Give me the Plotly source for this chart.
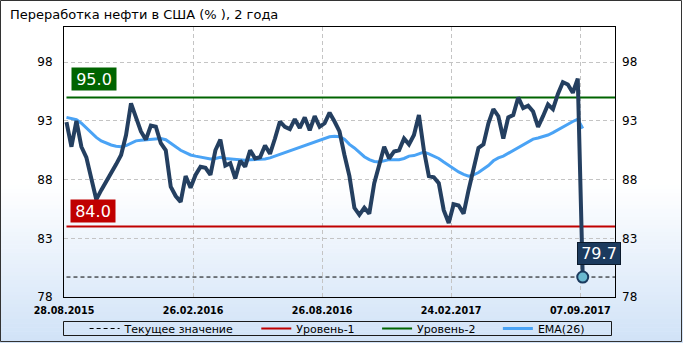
import plotly.graph_objects as go

# ---------------- data ----------------
title_text = "Переработка нефти в США (% ), 2 года"
tick_positions = [0, 26, 52, 78, 104]
tick_labels = ["28.08.2015", "26.02.2016", "26.08.2016", "24.02.2017", "07.09.2017"]
y_ticks = [78, 83, 88, 93, 98]

refining = [
    92.9, 90.8, 93.0, 90.8, 89.9, 88.0, 86.3, 87.1, 87.8, 88.5,
    89.3, 90.1, 91.8, 94.5, 93.3, 92.1, 91.4, 92.6, 92.5, 91.1,
    90.5, 87.4, 86.6, 86.1, 88.3, 87.3, 88.4, 89.1, 89.0, 88.4,
    90.5, 91.4, 89.2, 89.4, 88.1, 89.6, 89.1, 90.5, 89.8, 89.9,
    90.9, 90.2, 91.5, 92.95, 92.5, 92.3, 93.15, 92.4, 93.3, 92.2,
    93.4, 92.5, 92.8, 93.7, 92.95, 92.1, 90.1, 88.3, 85.6, 85.0,
    85.6, 85.1, 87.7, 89.3, 90.8, 89.8, 90.4, 90.5, 91.5, 91.0,
    91.8, 93.5, 90.5, 88.3, 88.2, 87.7, 85.4, 84.3, 85.9, 85.8,
    85.1, 87.1, 89.05, 90.7, 91.0, 92.8, 94.0, 93.4, 91.5, 93.3,
    93.5, 95.0, 94.1, 94.3, 93.8, 92.5, 93.4, 94.4, 94.0, 95.3,
    96.3, 96.1, 95.4, 96.6, 79.7,
]

ema26 = [
    93.3, 93.2, 93.1, 92.8, 92.4, 92.0, 91.6, 91.3, 91.1, 90.95,
    90.85, 90.8, 90.9, 91.1, 91.3, 91.35, 91.4, 91.45, 91.5, 91.5,
    91.4, 91.1, 90.8, 90.5, 90.3, 90.1, 90.0, 89.9, 89.8, 89.75,
    89.8, 89.9, 89.8, 89.75, 89.7, 89.65, 89.65, 89.7, 89.7, 89.7,
    89.75, 89.85, 90.0, 90.15, 90.3, 90.5, 90.65, 90.8, 90.95, 91.1,
    91.25, 91.35, 91.5, 91.65, 91.7, 91.65, 91.45, 91.0, 90.7, 90.3,
    89.95, 89.7, 89.55, 89.5, 89.6, 89.7, 89.7, 89.7, 89.8, 90.0,
    90.05, 90.2, 90.35, 90.2, 90.0, 89.8, 89.5, 89.2, 88.9, 88.65,
    88.45, 88.3, 88.4, 88.6, 88.9, 89.2, 89.6, 89.85, 90.0, 90.25,
    90.45, 90.7, 90.95, 91.2, 91.45, 91.55, 91.65, 91.8, 92.0, 92.25,
    92.5, 92.7, 92.95, 93.15, 92.35,
]

level_1 = 84.0
level_2 = 95.0
current_value = refining[-1]

legend_names = ["Текущее значение", "Уровень-1", "Уровень-2", "EMA(26)"]

# ---------------- styling ----------------
FONT = "DejaVu Sans"
NAVY = "#243f60"
EMA_C = "#4aa3f5"
RED = "#c00000"
GREEN = "#006400"
GRID = "#c4c4c4"

W, H = 683, 343
L, R, T, B = 64, 68, 27, 46
PW, PH = W - L - R, H - T - B

def px2paper_x(px):
    return (px - L) / PW

def px2paper_y(py):
    return (H - B - py) / PH

n = len(refining)
xs = [i + 0.5 for i in range(n)]
x_end = 111

fig = go.Figure()

pad = "\u00a0" * 5
fig.add_trace(go.Scatter(x=[xs[0], x_end], y=[level_1, level_1], mode="lines",
                         line=dict(color=RED, width=2), name=legend_names[1] + pad,
                         legendrank=2, hoverinfo="skip"))
fig.add_trace(go.Scatter(x=[xs[0], x_end], y=[level_2, level_2], mode="lines",
                         line=dict(color=GREEN, width=2), name=legend_names[2] + pad,
                         legendrank=3, hoverinfo="skip"))
fig.add_trace(go.Scatter(x=[xs[0], x_end], y=[current_value, current_value], mode="lines",
                         line=dict(color="black", width=1, dash="4px,3px"),
                         name=legend_names[0] + pad, legendrank=1, hoverinfo="skip"))
fig.add_trace(go.Scatter(x=xs, y=ema26, mode="lines",
                         line=dict(color=EMA_C, width=3), name=legend_names[3],
                         legendrank=4))
fig.add_trace(go.Scatter(x=xs, y=refining, mode="lines",
                         line=dict(color=NAVY, width=4), showlegend=False))
fig.add_trace(go.Scatter(x=[xs[-1]], y=[current_value], mode="markers",
                         marker=dict(size=11, color="#6ab8cf", line=dict(color="#1b3a5e", width=2)),
                         showlegend=False, cliponaxis=False))
fig.add_trace(go.Scatter(x=[xs[0]], y=[current_value], yaxis="y2", mode="lines",
                         line=dict(width=0), showlegend=False, hoverinfo="skip"))

# ---------------- background gradient ----------------
shapes = []
g_top, g_bot = 185, 343
steps = 40
c0 = (255, 255, 255)
c1 = (208, 226, 247)
for k in range(steps):
    y0 = g_top + (g_bot - g_top) * k / steps
    y1 = g_top + (g_bot - g_top) * (k + 1) / steps + 0.6
    t = (k + 0.5) / steps
    col = tuple(round(c0[j] + (c1[j] - c0[j]) * t) for j in range(3))
    shapes.append(dict(type="rect", xref="paper", yref="paper", layer="below",
                       x0=px2paper_x(-2), x1=px2paper_x(W + 2),
                       y0=px2paper_y(y1), y1=px2paper_y(y0),
                       line=dict(width=0), fillcolor="rgb(%d,%d,%d)" % col))
shapes.append(dict(type="rect", xref="paper", yref="paper", layer="above",
                   x0=px2paper_x(63.5), x1=px2paper_x(611.5),
                   y0=px2paper_y(335.5), y1=px2paper_y(321.5),
                   line=dict(color="#1a1a1a", width=1), fillcolor="rgba(0,0,0,0)"))
shapes.append(dict(type="rect", xref="paper", yref="paper", layer="above",
                   x0=px2paper_x(0.5), x1=px2paper_x(W - 1.5),
                   y0=px2paper_y(H - 1.5), y1=px2paper_y(0.5),
                   line=dict(color="#333333", width=1), fillcolor="rgba(0,0,0,0)"))

annotations = [
    dict(x=xs[0], y=level_2, xref="x", yref="y", text=f"{level_2:.1f}", showarrow=False,
         xanchor="left", yanchor="bottom", xshift=4.5, yshift=6,
         bgcolor=GREEN, font=dict(family=FONT, size=16, color="white"),
         width=40, height=18, borderpad=2),
    dict(x=xs[0], y=level_1, xref="x", yref="y", text=f"{level_1:.1f}", showarrow=False,
         xanchor="left", yanchor="bottom", xshift=3.5, yshift=3.3,
         bgcolor=RED, font=dict(family=FONT, size=16, color="white"),
         width=40, height=18, borderpad=2),
    dict(x=xs[-1], y=current_value, xref="x", yref="y", text=f"{current_value:.1f}",
         showarrow=False, xanchor="left", yanchor="bottom", xshift=-6, yshift=12,
         bgcolor="#1b3a5e", bordercolor="#0b1a2c", borderwidth=1,
         font=dict(family=FONT, size=16, color="white"),
         width=38, height=17, borderpad=2),
]

axis_common = dict(showline=True, linecolor="black", linewidth=1, mirror=True,
                   ticks="", zeroline=False, automargin=False)

fig.update_layout(
    width=W, height=H,
    margin=dict(l=L, r=R, t=T, b=B, pad=0, autoexpand=False),
    paper_bgcolor="white", plot_bgcolor="rgba(0,0,0,0)",
    title=dict(text=title_text, xref="container", yref="container",
               x=10 / W, xanchor="left", y=1 - 14 / H, yanchor="middle",
               font=dict(family=FONT, size=13, color="black")),
    xaxis=dict(range=[0, x_end], tickvals=tick_positions, ticktext=tick_labels,
               showgrid=True, gridcolor=GRID, griddash="4px,3px", gridwidth=1,
               tickfont=dict(family=FONT, size=9.6, color="black", weight="bold"),
               ticklabelstandoff=4, **axis_common),
    yaxis=dict(range=[78, 101], tickvals=y_ticks, showgrid=True, gridcolor=GRID,
               griddash="4px,3px", gridwidth=1,
               tickfont=dict(family=FONT, size=12, color="black"),
               ticklabelstandoff=8, **axis_common),
    yaxis2=dict(range=[78, 101], tickvals=y_ticks, overlaying="y", side="right",
                showgrid=False, showline=False, ticks="", zeroline=False, automargin=False,
                tickfont=dict(family=FONT, size=12, color="black"),
                ticklabelstandoff=6),
    showlegend=True,
    legend=dict(orientation="h", xref="paper", yref="paper",
                x=px2paper_x(84.6), xanchor="left",
                y=px2paper_y(328.5), yanchor="middle",
                bgcolor="rgba(0,0,0,0)", borderwidth=0,
                font=dict(family=FONT, size=11, color="black"),
                traceorder="normal"),
    shapes=shapes,
    annotations=annotations,
)

fig.write_html("out.html")
